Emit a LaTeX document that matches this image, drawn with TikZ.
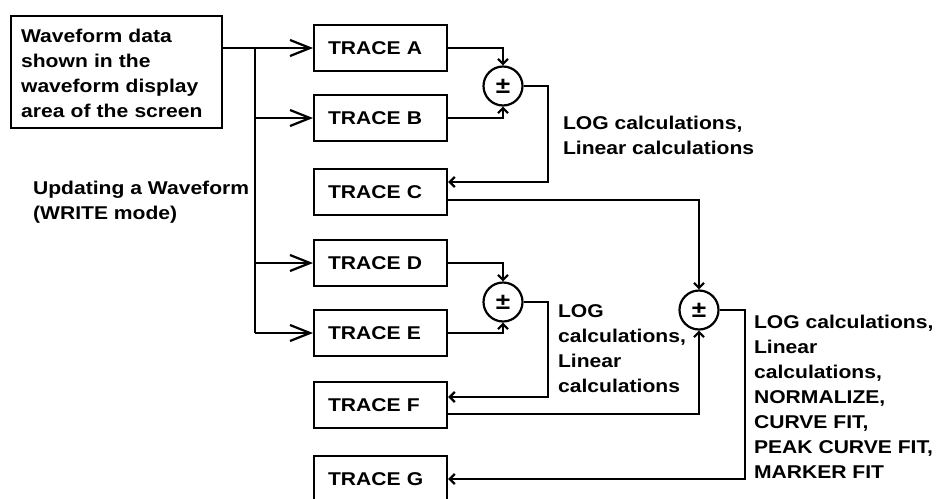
\documentclass[tikz,border=0pt]{standalone}
\usepackage{fontspec}
\setmainfont{Liberation Sans}[FakeStretch=1.14]
\usetikzlibrary{arrows.meta}
\begin{document}
\begin{tikzpicture}[x=1pt,y=-1pt, line width=2.2pt,
  every node/.style={font=\fontsize{18.5}{25}\selectfont\bfseries},
  tbox/.style={draw, rectangle, minimum width=133pt, minimum height=46pt, inner xsep=14pt, text width=105pt, align=left, anchor=west},
  sumnode/.style={draw, circle, minimum size=39pt, inner sep=0pt, font=\fontsize{23}{25}\selectfont\bfseries},
  big/.style={-{Straight Barb[length=20pt,width=16pt]}},
  small/.style={-{Straight Barb[length=5pt,width=10pt]}},
  lbl/.style={anchor=north west, align=left, inner sep=0pt}]
\clip (0,0) rectangle (936,498);
\fill[white] (0,0) rectangle (936,498);

\node[draw, anchor=north west, minimum width=211pt, minimum height=112pt, text width=191pt, inner xsep=10pt, align=left] (src) at (10,15) {\rule{0pt}{16pt}Waveform data\\shown in the\\waveform display\\area of the screen};

\node[tbox] (A) at (313,48) {TRACE A};
\node[tbox] (B) at (313,118) {TRACE B};
\node[tbox] (C) at (313,192) {TRACE C};
\node[tbox] (D) at (313,263) {TRACE D};
\node[tbox] (E) at (313,333) {TRACE E};
\node[tbox] (F) at (313,405) {TRACE F};
\node[tbox] (G) at (313,479) {TRACE G};

\node[sumnode] (s1) at (503,86) {±};
\node[sumnode] (s2) at (503,302) {±};
\node[sumnode] (s3) at (699,310) {±};

\node[lbl] (l1) at (562,114.7) {LOG calculations,\\Linear calculations};
\node[lbl] (l2) at (557,303.7) {LOG\\calculations,\\Linear\\calculations};
\node[lbl] (l3) at (753,313.7) {LOG calculations,\\Linear\\calculations,\\NORMALIZE,\\CURVE FIT,\\PEAK CURVE FIT,\\MARKER FIT};
\node[lbl] (upd) at (32,179.7) {Updating a Waveform\\(WRITE mode)};

% input bus
\coordinate (bt) at (255,48);
\coordinate (bb) at (255,333);
\draw[big] (src.east |- A.west) -- (A.west);
\draw (bt) -- (bb);
\draw[big] (bt |- B.west) -- (B.west);
\draw[big] (bt |- D.west) -- (D.west);
\draw[big] (bb) -- (E.west);

% first sum
\draw[small] (A.east) -| (s1.north);
\draw[small] (B.east) -| (s1.south);
\coordinate (r1) at (548,86);
\draw[small] (s1.east) -- (r1) |- ([yshift=10pt]C.east);

% second sum
\draw[small] (D.east) -| (s2.north);
\draw[small] (E.east) -| (s2.south);
\coordinate (r2) at (548,302);
\draw[small] (s2.east) -- (r2) |- ([yshift=8pt]F.east);

% third sum
\draw[small] ([yshift=-8pt]C.east) -| (s3.north);
\draw[small] ([yshift=-9pt]F.east) -| (s3.south);
\coordinate (r3) at (745,310);
\draw[small] (s3.east) -- (r3) |- (G.east);
\end{tikzpicture}
\end{document}
